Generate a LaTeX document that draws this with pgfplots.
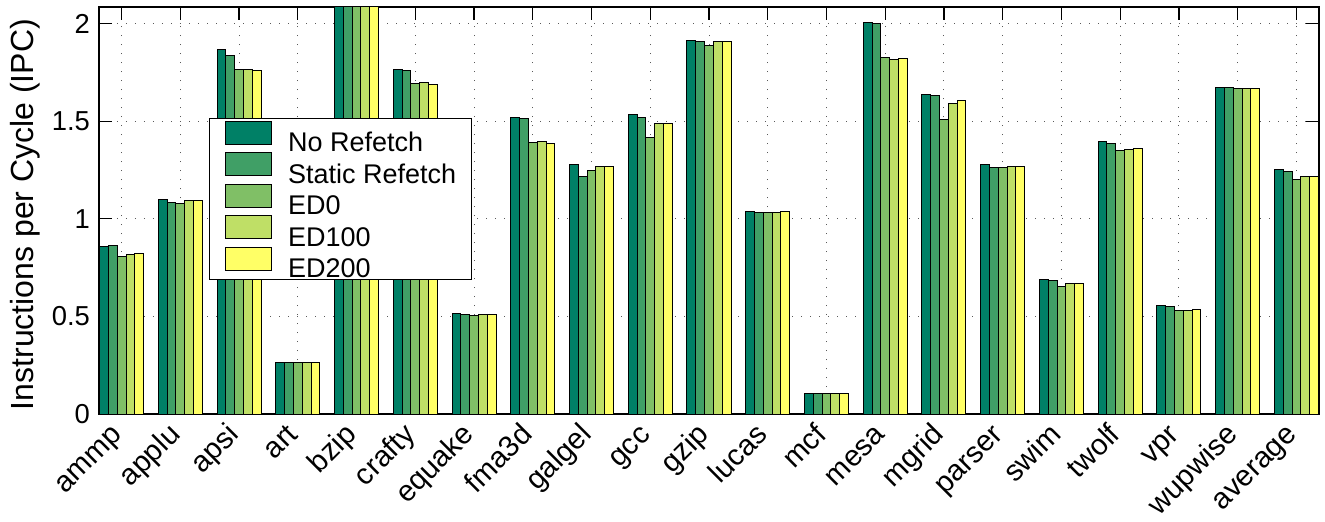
\documentclass[border=0pt]{standalone}
\usepackage{fontspec}
\setmainfont{Liberation Sans}
\usepackage{pgfplots}
\usepackage{pgfplotstable}
\pgfplotsset{compat=1.18}
\definecolor{cA}{rgb}{0,0.5,0.4}
\definecolor{cB}{rgb}{0.25,0.625,0.4}
\definecolor{cC}{rgb}{0.5,0.75,0.4}
\definecolor{cD}{rgb}{0.75,0.875,0.4}
\definecolor{cE}{rgb}{1,1,0.4}
\pgfplotstableread{
x a b c d e
1 0.860 0.865 0.807 0.819 0.823
2 1.100 1.085 1.080 1.092 1.093
3 1.867 1.837 1.765 1.767 1.760
4 0.265 0.262 0.262 0.262 0.262
5 2.200 2.200 2.200 2.200 2.200
6 1.763 1.760 1.693 1.700 1.690
7 0.516 0.512 0.507 0.510 0.512
8 1.519 1.514 1.391 1.394 1.386
9 1.280 1.215 1.246 1.268 1.268
10 1.535 1.521 1.415 1.487 1.488
11 1.912 1.908 1.888 1.906 1.906
12 1.035 1.032 1.031 1.034 1.035
13 0.106 0.105 0.105 0.105 0.105
14 2.004 2.000 1.828 1.814 1.821
15 1.635 1.630 1.510 1.591 1.608
16 1.280 1.261 1.265 1.270 1.270
17 0.691 0.683 0.655 0.669 0.669
18 1.396 1.388 1.348 1.355 1.358
19 0.556 0.553 0.531 0.532 0.534
20 1.673 1.671 1.666 1.668 1.668
21 1.253 1.244 1.203 1.217 1.217
}\datatable
\begin{document}
\begin{tikzpicture}[font=\fontsize{13.5}{16}\selectfont]
\begin{axis}[
  at={(0,0)}, anchor=south west,
  scale only axis, width=610pt, height=203.5pt,
  xmin=0.615, xmax=21.385, ymin=0, ymax=2.085,
  ybar, bar width=0.15,
  xtick={1,...,21},
  xticklabels={ammp,applu,apsi,art,bzip,crafty,equake,fma3d,galgel,gcc,gzip,lucas,mcf,mesa,mgrid,parser,swim,twolf,vpr,wupwise,average},
  ytick={0,0.5,1,1.5,2},
  tick pos=both, tick align=inside, major tick length=6.5pt,
  tick style={black, line width=0.6pt},
  axis line style={black, line width=0.75pt},
  grid=major,
  major grid style={black!65, line width=0.5pt, dash pattern=on 0.7pt off 3.8pt},
  /pgf/number format/assume math mode=true,
  yticklabel style={font=\fontsize{13.7}{16}\selectfont, xshift=-1pt},
  xticklabel style={font=\fontsize{14.7}{17.5}\selectfont, xshift=0.8pt, yshift=-11pt, rotate=45, anchor=base east, inner sep=0pt},
  ylabel={Instructions per Cycle (IPC)},
  ylabel style={at={(axis description cs:-0.0607,0.49)}, anchor=center, font=\fontsize{16}{19}\selectfont},
  legend image code/.code={\draw[#1] (0pt,-1.1pt) rectangle (23pt,10.4pt);},
  legend style={at={(rel axis cs:0.0902,0.727)}, anchor=north west,
    draw=black, line width=0.6pt, fill=white,
    font=\fontsize{13.5}{16}\selectfont,
    nodes={inner sep=0pt, text height=9.5pt, text depth=0pt},
    row sep=0.35pt, column sep=8.2pt, inner xsep=7.5pt, inner ysep=1pt},
  legend cell align=left,
]
\addplot[fill=cA, draw=black, line width=0.5pt, bar shift=-0.3] table[x=x,y=a]{\datatable};
\addplot[fill=cB, draw=black, line width=0.5pt, bar shift=-0.15] table[x=x,y=b]{\datatable};
\addplot[fill=cC, draw=black, line width=0.5pt, bar shift=0] table[x=x,y=c]{\datatable};
\addplot[fill=cD, draw=black, line width=0.5pt, bar shift=0.15] table[x=x,y=d]{\datatable};
\addplot[fill=cE, draw=black, line width=0.5pt, bar shift=0.3] table[x=x,y=e]{\datatable};
\legend{No Refetch, Static Refetch, ED0, ED100, ED200}
\end{axis}
\pgfresetboundingbox
\path[use as bounding box] (-49.5pt,-53.5pt) rectangle (613pt,207pt);
\end{tikzpicture}
\end{document}
